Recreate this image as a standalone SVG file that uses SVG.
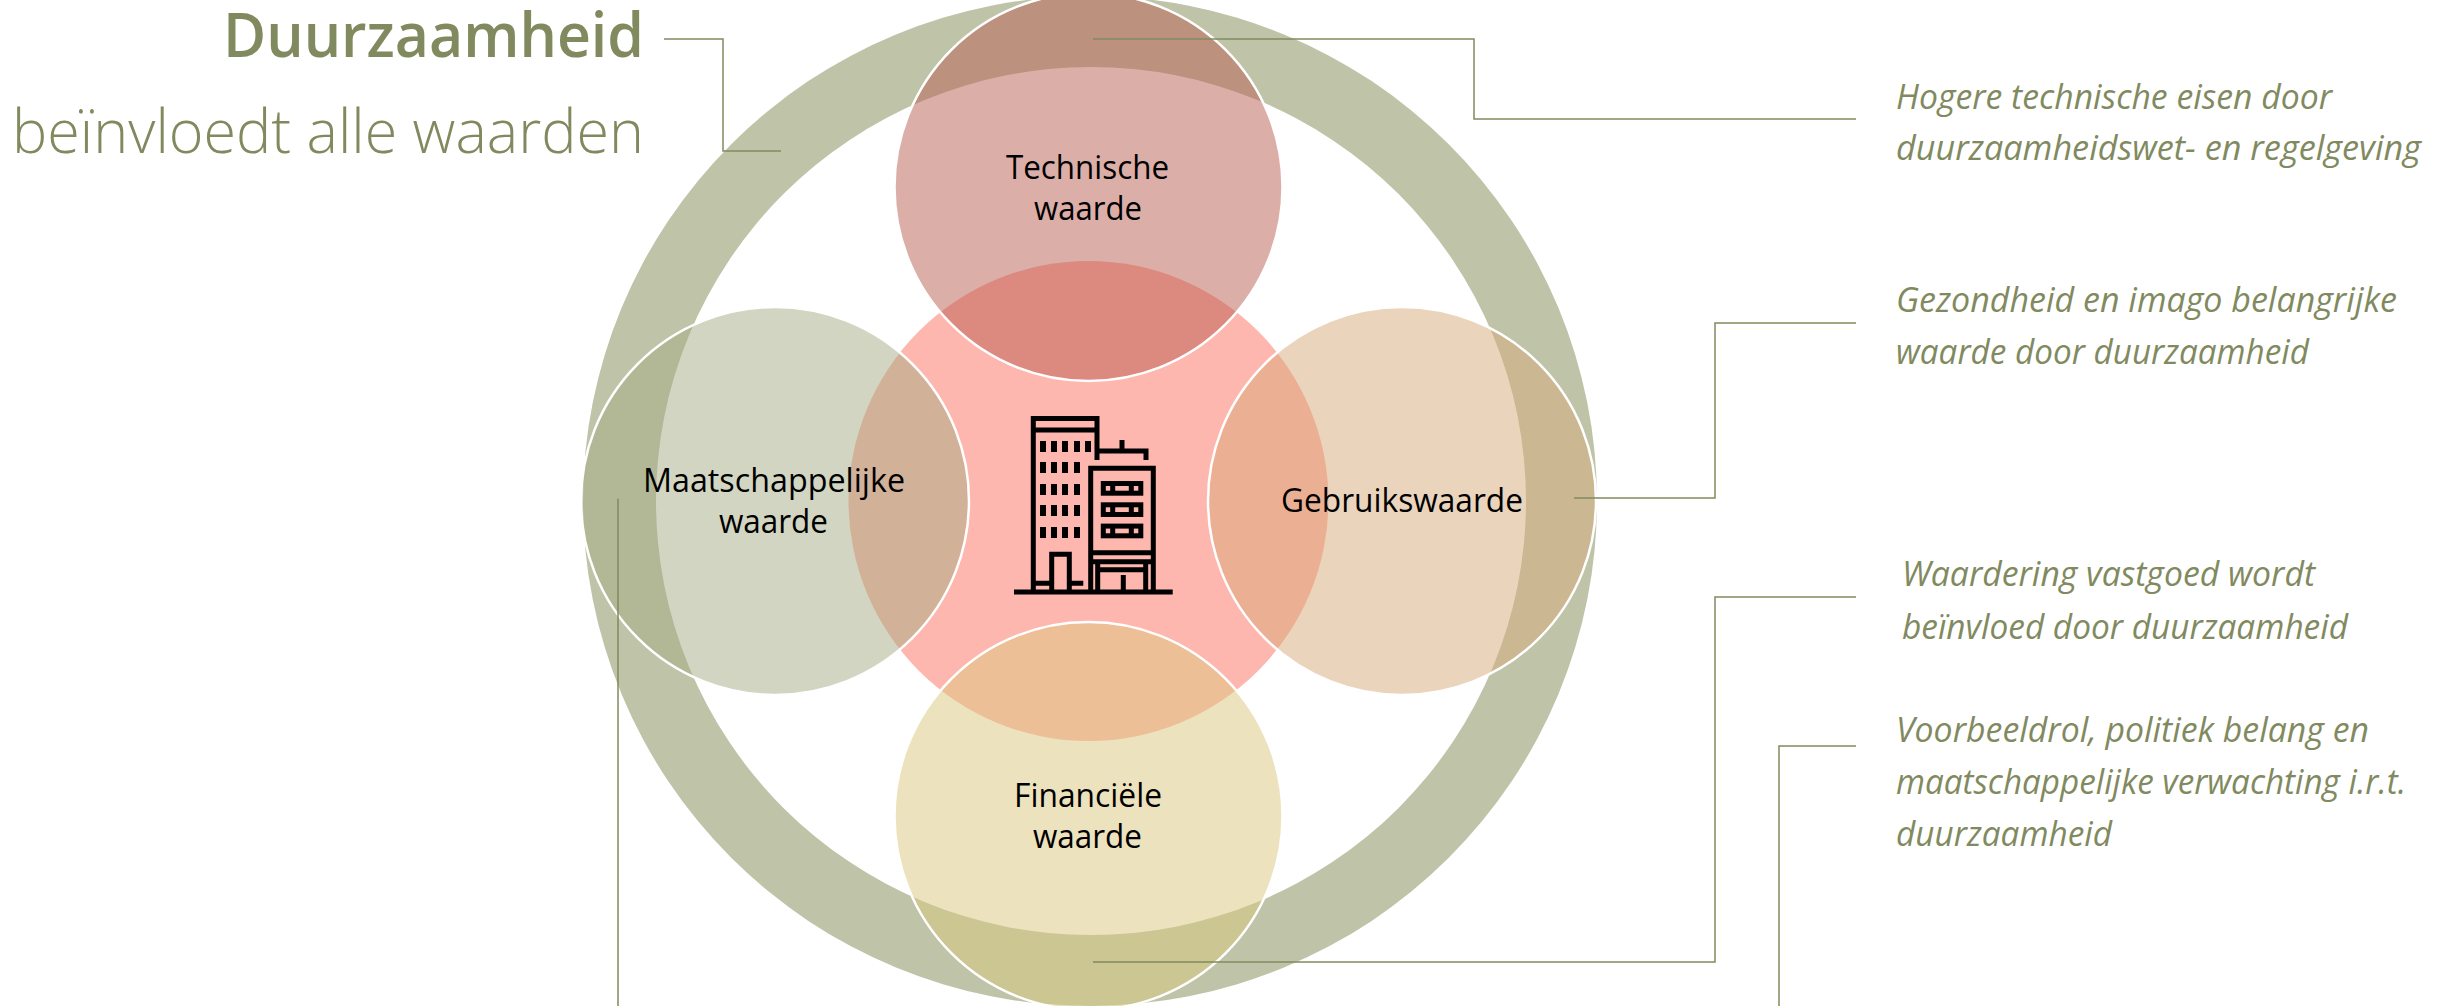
<svg xmlns="http://www.w3.org/2000/svg" width="2451" height="1006" viewBox="0 0 2451 1006">
<style>
.val{stroke:#fff;stroke-width:2.5}
.lbl{font-family:"Open Sans","Noto Sans",sans-serif;font-size:32px;fill:#000}
.note{font-family:"Open Sans","Noto Sans",sans-serif;font-size:34px;font-style:italic;fill:#818A5F}
.conn{fill:none;stroke:#818A5F;stroke-width:1.5}
.ic{fill:none;stroke:#000;stroke-width:5}
.win{fill:#000}
</style>
<defs>
<g id="w5"><rect class="win" x="60" y="61" width="6" height="11"/><rect class="win" x="71" y="61" width="6" height="11"/><rect class="win" x="82" y="61" width="6" height="11"/><rect class="win" x="94" y="61" width="6" height="11"/></g>
<g id="w3"><rect class="ic" x="123.3" y="103.5" width="37.5" height="9.7"/><path class="ic" d="M132.7 103v10M151.3 103v10"/></g>
</defs>
<g id="ring"><path fill="#BFC4A9" fill-rule="evenodd" d="M583 501A507 505 0 1 1 1597 501A507 505 0 1 1 583 501ZM656 501A435 434 0 1 0 1526 501A435 434 0 1 0 656 501Z"/></g>
<g id="center"><circle cx="1088.5" cy="501" r="240" fill="#FEB7AE"/></g>
<g id="technische"><circle class="val" cx="1088.5" cy="187" r="194" fill="#B95D51" fill-opacity=".5"/></g>
<g id="maatschappelijke"><circle class="val" cx="775" cy="501" r="194" fill="#A5AB83" fill-opacity=".5"/></g>
<g id="gebruik"><circle class="val" cx="1402" cy="501" r="194" fill="#D7A979" fill-opacity=".5"/></g>
<g id="financieel"><circle class="val" cx="1088.5" cy="816" r="194" fill="#D9C77D" fill-opacity=".5"/></g>
<g id="connectors">
<path class="conn" d="M664 39H723V151H781"/>
<path class="conn" d="M1093 39H1474V119H1856"/>
<path class="conn" d="M1574 498H1715V323H1856"/>
<path class="conn" d="M1093 962H1715V597H1856"/>
<path class="conn" d="M1856 746H1779V1006"/>
<path class="conn" d="M618 498.500V1006"/>
</g>
<g id="icon" transform="translate(980 380)">
<path class="ic" d="M53.300 210V38.500H117V80M53.300 50H117M117 71H166V80M142 60V71"/>
<path class="ic" d="M34 212H192.700M71.700 210V174.300H89.300V210M53.300 203.300H71.700M89.300 203.300H103.300"/>
<path class="ic" d="M110.700 210V88.300H173.300V210M110.700 172.700H173.300M110.700 181.700H173.300M117.700 210V181.700M165.700 210V181.700M117.700 189.700H165.700M143.300 195V210"/>
<use href="#w5"/><rect class="win" x="105" y="61" width="6" height="11"/>
<use href="#w5" y="21"/><use href="#w5" y="43"/><use href="#w5" y="64"/><use href="#w5" y="86"/>
<use href="#w3"/><use href="#w3" y="21.300"/><use href="#w3" y="42.600"/>
</g>
<g id="title">
<text x="644" y="57" text-anchor="end" textLength="421" lengthAdjust="spacingAndGlyphs" style="font-family:'Open Sans','Noto Sans',sans-serif;font-size:61px;font-weight:600;fill:#818A5F">Duurzaamheid</text>
<text x="644" y="153" text-anchor="end" textLength="632" lengthAdjust="spacingAndGlyphs" style="font-family:'Open Sans','Noto Sans',sans-serif;font-size:61px;font-weight:300;fill:#818A5F">beïnvloedt alle waarden</text>
</g>
<g id="labels">
<text class="lbl" x="1006" y="179" textLength="163" lengthAdjust="spacingAndGlyphs">Technische</text>
<text class="lbl" x="1034" y="220" textLength="108" lengthAdjust="spacingAndGlyphs">waarde</text>
<text class="lbl" x="643" y="492" textLength="262" lengthAdjust="spacingAndGlyphs">Maatschappelijke</text>
<text class="lbl" x="719" y="533" textLength="109" lengthAdjust="spacingAndGlyphs">waarde</text>
<text class="lbl" x="1281" y="512" textLength="242" lengthAdjust="spacingAndGlyphs">Gebruikswaarde</text>
<text class="lbl" x="1014" y="807" textLength="148" lengthAdjust="spacingAndGlyphs">Financiële</text>
<text class="lbl" x="1033" y="848" textLength="109" lengthAdjust="spacingAndGlyphs">waarde</text>
</g>
<g id="notes">
<text class="note" x="1896" y="109" textLength="436" lengthAdjust="spacingAndGlyphs">Hogere technische eisen door</text>
<text class="note" x="1896" y="160" textLength="525" lengthAdjust="spacingAndGlyphs">duurzaamheidswet- en regelgeving</text>
<text class="note" x="1896" y="312" textLength="501" lengthAdjust="spacingAndGlyphs">Gezondheid en imago belangrijke</text>
<text class="note" x="1896" y="364" textLength="413" lengthAdjust="spacingAndGlyphs">waarde door duurzaamheid</text>
<text class="note" x="1902" y="586" textLength="413" lengthAdjust="spacingAndGlyphs">Waardering vastgoed wordt</text>
<text class="note" x="1902" y="639" textLength="446" lengthAdjust="spacingAndGlyphs">beïnvloed door duurzaamheid</text>
<text class="note" x="1896" y="742" textLength="473" lengthAdjust="spacingAndGlyphs">Voorbeeldrol, politiek belang en</text>
<text class="note" x="1896" y="794" textLength="510" lengthAdjust="spacingAndGlyphs">maatschappelijke verwachting i.r.t.</text>
<text class="note" x="1896" y="846" textLength="216" lengthAdjust="spacingAndGlyphs">duurzaamheid</text>
</g>
</svg>
